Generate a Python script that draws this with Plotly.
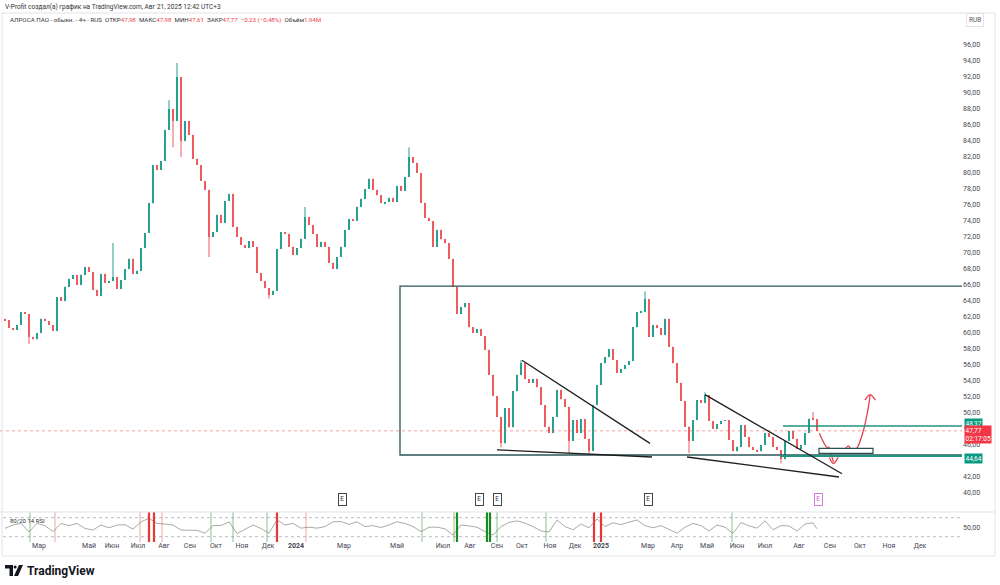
import plotly.graph_objects as go

# ---------------- DATA ----------------
# Close prices of coarse bars (one bar ~ 2 trading days), RUB
closes = [61.6, 60.6, 60.4, 61.0, 62.6, 62.4, 59.5, 59.2, 60.0, 61.8,
          61.5, 61.0, 60.3, 64.5, 64.0, 65.8, 66.8, 67.2, 66.0, 67.3,
          68.2, 67.6, 65.4, 64.6, 67.4, 66.3, 66.5, 67.0, 65.5, 66.6,
          68.0, 69.3, 67.4, 67.8, 70.6, 72.5, 76.2, 81.0, 80.4, 81.5,
          85.4, 88.0, 86.5, 92.0, 84.0, 86.5, 84.8, 81.8, 81.0, 79.0,
          77.9, 72.0, 72.6, 74.8, 73.8, 76.5, 77.4, 73.3, 72.0, 71.0,
          70.6, 71.5, 70.8, 67.5, 66.5, 65.6, 64.8, 65.3, 70.5, 72.6,
          72.4, 70.8, 69.8, 70.6, 71.8, 74.5, 73.5, 72.4, 70.8, 71.4,
          70.8, 68.8, 68.0, 69.5, 70.8, 72.9, 74.2, 74.0, 75.8, 76.8,
          78.0, 79.3, 77.9, 77.2, 76.2, 76.4, 76.9, 76.4, 78.4, 77.8,
          79.5, 82.0, 81.3, 80.0, 76.3, 74.4, 74.0, 70.8, 72.9, 71.7,
          71.2, 69.3, 65.8, 62.4, 63.2, 63.7, 60.7, 60.0, 60.5, 59.6,
          57.9, 54.8, 52.1, 49.5, 46.2, 50.6, 48.2, 52.7, 54.8, 56.2,
          54.2, 53.8, 54.3, 53.2, 51.0, 48.3, 47.5, 49.5, 52.9, 51.7,
          50.8, 46.5, 49.1, 47.5, 49.2, 46.8, 45.3, 51.0, 53.5, 56.2,
          57.0, 58.0, 56.6, 55.0, 55.5, 56.0, 56.5, 60.7, 62.6, 62.6,
          64.2, 59.5, 61.0, 60.6, 59.8, 61.8, 58.3, 56.2, 53.8, 51.5,
          48.3, 46.5, 49.1, 51.6, 51.3, 52.2, 49.0, 48.0, 48.6, 49.0,
          49.1, 46.6, 45.2, 45.8, 48.5, 47.0, 45.7, 45.4, 45.2, 46.0,
          47.5, 47.0, 45.8, 45.4, 44.2, 46.5, 47.7, 46.8, 45.5, 46.0,
          47.5, 49.3, 49.2, 47.77]
first_open = 61.8
# wick extremes that stick out of the bodies (bar index -> price)
wick_highs = {27: 71.25, 41: 89.1, 43: 93.75, 75: 75.75, 101: 83.2,
              129: 56.6, 160: 65.2, 175: 52.6, 202: 50.1}
wick_lows = {6: 58.6, 42: 83.2, 44: 82.0, 51: 69.5, 66: 64.3, 124: 45.7,
             141: 45.0, 146: 44.9, 171: 45.0, 194: 43.7}

# RSI(14) sampled every 2 bars
rsi_values = [46.5, 57, 62, 35, 62, 55, 36, 62, 55, 62, 46, 41, 57, 48, 57,
              58, 44, 67, 78, 62, 60, 57, 41, 40, 40, 31, 55, 55, 67, 30,
              43, 57, 46, 31, 73, 57, 62, 47, 50, 47, 52, 67, 68, 59, 67,
              52, 55, 49, 57, 67, 62, 52, 36, 50, 50, 45, 25, 57, 54, 50,
              36, 25, 52, 65, 70, 63, 52, 38, 35, 73, 52, 42, 60, 48, 76,
              52, 64, 58, 66, 73, 55, 48, 55, 43, 31, 50, 62, 55, 38, 57,
              50, 30, 65, 54, 47, 70, 42, 55, 54, 38, 60, 64, 45]
rsi_step = 2

# RSI extreme markers (bar index)
green_light = [6.25, 51.5, 57, 65.5, 104.25, 112.25, 123, 135.25, 181.75]
green_strong = [113, 120.5, 121.25]
red_light = [12.5, 33.75, 39.25, 75.25]
red_strong = [36, 37.25, 68, 147.25, 149]
earnings = [84.25, 118.5, 123, 160.75]
earnings_next = 203.25

# Month labels (bar index of month start)
tick_pos = [8.5, 21, 26.75, 33.25, 39.75, 46.25, 52.75, 59.25, 65.75, 72.75,
            84.75, 98, 109.5, 116.25, 123, 129.25, 136.25, 142.5, 149, 160.75,
            168, 175.5, 183, 190, 198.5, 206.25, 213.75, 221, 228.75]
tick_text = ['Мар', 'Май', 'Июн', 'Июл', 'Авг', 'Сен', 'Окт', 'Ноя', 'Дек', '<b>2024</b>',
             'Мар', 'Май', 'Июл', 'Авг', 'Сен', 'Окт', 'Ноя', 'Дек', '<b>2025</b>', 'Мар',
             'Апр', 'Май', 'Июн', 'Июл', 'Авг', 'Сен', 'Окт', 'Ноя', 'Дек']
price_ticks = [40, 42, 46, 50, 52, 54, 56, 58, 60, 62, 64, 66, 68, 70, 72, 74,
               76, 78, 80, 82, 84, 86, 88, 90, 92, 94, 96]

# Drawings (bar index, price)
range_box = dict(x0=98.75, x1=245, y0=44.75, y1=65.85)
level_hi, level_lo, last_price = 48.37, 44.64, 47.77
level_hi_start, level_lo_start = 194.5, 193.75
wedge_lines = [((129.25, 56.6), (161.25, 46.2)),
               ((123.0, 45.4), (161.75, 44.5)),
               ((175.0, 52.3), (209.25, 42.4)),
               ((170.5, 44.5), (208.5, 42.0))]
small_box = dict(x0=203.5, x1=217.0, y0=44.96, y1=45.58)
path_down_b = [203.6, 205.0, 206.25, 207.1]
path_down_p = [47.46, 46.0, 45.16, 43.9]
head_down_b = [206.1, 207.1, 208.3]
head_down_p = [44.45, 43.7, 44.45]
path_up_b = [205.8, 207.1, 208.3, 209.6, 210.8, 211.7, 212.9, 214.4, 215.4, 216.0, 216.25]
path_up_p = [45.8, 45.16, 45.58, 45.3, 45.9, 45.4, 45.58, 47.46, 49.54, 51.2, 52.25]
head_up_b = [215.0, 216.25, 217.6]
head_up_p = [51.6, 52.3, 51.6]

# ---------------- FIGURE ----------------
UP, DOWN = '#26a08f', '#ee5a5f'
opens = [first_open] + closes[:-1]
highs = [max(o, c) for o, c in zip(opens, closes)]
lows = [min(o, c) for o, c in zip(opens, closes)]
for k, v in wick_highs.items():
    highs[k] = max(highs[k], v)
for k, v in wick_lows.items():
    lows[k] = min(lows[k], v)
bars = list(range(len(closes)))
is_up = [c >= o for o, c in zip(opens, closes)]

W, H = 1000, 585
def py(p):
    return 1 - p / H

fig = go.Figure()
for flag, col in [(True, UP), (False, DOWN)]:
    wx, wy = [], []
    for b, h, l, u in zip(bars, highs, lows, is_up):
        if u == flag:
            wx += [b, b, None]
            wy += [l, h, None]
    fig.add_trace(go.Scatter(x=wx, y=wy, mode='lines', line=dict(color=col, width=1),
                             showlegend=False, hoverinfo='skip'))
fig.add_trace(go.Bar(
    x=bars, base=[min(o, c) for o, c in zip(opens, closes)],
    y=[max(abs(c - o), 0.12) for o, c in zip(opens, closes)],
    width=0.7, marker=dict(color=[UP if u else DOWN for u in is_up], line=dict(width=0)),
    showlegend=False, hoverinfo='skip', xaxis='x', yaxis='y'))

rsi_x = [min(i * rsi_step, len(closes) - 1) for i in range(len(rsi_values))]
fig.add_trace(go.Scatter(x=rsi_x, y=rsi_values, mode='lines',
                         line=dict(color='#aaaaaa', width=1),
                         showlegend=False, hoverinfo='skip', xaxis='x2', yaxis='y2'))

for bx, bp in [(path_down_b, path_down_p), (head_down_b, head_down_p),
               (path_up_b, path_up_p), (head_up_b, head_up_p)]:
    fig.add_trace(go.Scatter(x=bx, y=bp, mode='lines',
                             line=dict(color='#e0424c', width=1.3, shape='spline'),
                             showlegend=False, hoverinfo='skip'))

shapes = []
shapes.append(dict(type='line', xref='paper', x0=0, x1=0.962, yref='y', y0=last_price, y1=last_price,
                   line=dict(color='rgba(239,83,80,0.55)', width=1, dash='dot')))
shapes.append(dict(type='rect', xref='x', yref='y', **range_box,
                   line=dict(color='#2b5557', width=1.3)))
shapes.append(dict(type='line', xref='x', yref='y', x0=level_hi_start, x1=245, y0=level_hi, y1=level_hi,
                   line=dict(color='#23927f', width=1.5)))
shapes.append(dict(type='line', xref='x', yref='y', x0=level_lo_start, x1=245, y0=level_lo, y1=level_lo,
                   line=dict(color='#23927f', width=2)))
for (a, b) in wedge_lines:
    shapes.append(dict(type='line', xref='x', yref='y', x0=a[0], y0=a[1], x1=b[0], y1=b[1],
                       line=dict(color='#1e1e1e', width=1.3)))
shapes.append(dict(type='rect', xref='x', yref='y', **small_box, fillcolor='white',
                   line=dict(color='#2b4f55', width=1.2), layer='above'))
for lvl in (80, 20):
    shapes.append(dict(type='line', xref='x2', yref='y2', x0=-2, x1=240, y0=lvl, y1=lvl,
                       line=dict(color='#b8bcc6', width=1, dash='dot')))
r0, r1 = py(542), py(512)
for xs, col, wdt in [(green_light, 'rgba(56,142,60,0.55)', 1), (green_strong, '#1b8a22', 2.2),
                     (red_light, 'rgba(229,57,53,0.45)', 1), (red_strong, '#e53935', 2.2)]:
    for xv in xs:
        shapes.append(dict(type='line', xref='x2', yref='paper', x0=xv, x1=xv, y0=r0, y1=r1,
                           line=dict(color=col, width=wdt)))
shapes.append(dict(type='line', xref='paper', yref='paper', x0=0, x1=0.995, y0=py(512), y1=py(512),
                   line=dict(color='#e0e3eb', width=1)))
shapes.append(dict(type='rect', xref='paper', yref='paper', x0=0.002, x1=0.995, y0=py(556), y1=py(13),
                   line=dict(color='#e0e3eb', width=1)))
shapes.append(dict(type='path', xref='paper', yref='paper', fillcolor='#131722', line=dict(width=0),
                   path=f'M {5/W} {py(565)} L {13/W} {py(565)} L {13/W} {py(576)} L {9.5/W} {py(576)} '
                        f'L {9.5/W} {py(568.5)} L {5/W} {py(568.5)} Z'))
shapes.append(dict(type='circle', xref='paper', yref='paper', fillcolor='#131722', line=dict(width=0),
                   x0=13.6/W, x1=16.6/W, y0=py(568.6), y1=py(565.6)))
shapes.append(dict(type='path', xref='paper', yref='paper', fillcolor='#131722', line=dict(width=0),
                   path=f'M {19/W} {py(565)} L {23/W} {py(565)} L {18/W} {py(576)} L {14/W} {py(576)} Z'))

anns = []
FONT = 'Roboto'
anns.append(dict(xref='paper', yref='paper', x=3/W, y=py(7), xanchor='left', yanchor='middle',
                 text='V-Profit создал(а) график на TradingView.com, Авг 21, 2025 12:42 UTC+3',
                 showarrow=False, font=dict(size=6.5, color='#333333', family=FONT)))
R = "<span style='color:#e8474f'>"
S = '&nbsp;&nbsp;'
anns.append(dict(xref='paper', yref='paper', x=8/W, y=py(20), xanchor='left', yanchor='middle',
                 text=f"АЛРОСА ПАО - обыкн. - 4ч - RUS{S}ОТКР{R}47,98</span>{S}МАКС{R}47,98</span>{S}"
                      f"МИН{R}47,61</span>{S}ЗАКР{R}47,77</span>{S}{R}−0,23 (−0,48%)</span>{S}Объём{R}1,94M</span>",
                 showarrow=False, font=dict(size=6.2, color='#333333', family=FONT)))
anns.append(dict(xref='paper', yref='paper', x=975/W, y=py(20), xanchor='center', yanchor='middle',
                 text='RUB', showarrow=False, font=dict(size=6.5, color='#555', family=FONT),
                 bordercolor='#e0e3eb', borderwidth=1, borderpad=2, bgcolor='white'))
for txt, ypix, bg in [('48,37', 423, '#089981'), ('47,77<br>02:17:05', 434.5, '#f23645'), ('44,64', 458.5, '#089981')]:
    anns.append(dict(xref='paper', yref='paper', x=964/W, y=py(ypix), xanchor='left', yanchor='middle',
                     text=txt, showarrow=False, align='left', bgcolor=bg, borderpad=0.5,
                     font=dict(size=6.5, color='white', family=FONT)))
for xv in earnings:
    anns.append(dict(xref='x', yref='paper', x=xv, y=py(506), text='E', showarrow=False,
                     font=dict(size=6.5, color='#333', family=FONT), bgcolor='white',
                     bordercolor='#444', borderwidth=1, borderpad=1.3))
anns.append(dict(xref='x', yref='paper', x=earnings_next, y=py(506), text='E', showarrow=False,
                 font=dict(size=6.5, color='#c45ccf', family=FONT), bgcolor='white',
                 bordercolor='#d47be0', borderwidth=1, borderpad=1.3))
anns.append(dict(xref='paper', yref='paper', x=8/W, y=py(520), xanchor='left', yanchor='middle',
                 text='80/20 14 RSI', showarrow=False, font=dict(size=6, color='#333', family=FONT)))
anns.append(dict(xref='paper', yref='paper', x=25/W, y=py(571), xanchor='left', yanchor='middle',
                 text='<b>TradingView</b>', showarrow=False, font=dict(size=12, color='#131722', family=FONT)))

xr = [-1.25, 239.25]
fig.update_layout(
    width=W, height=H, margin=dict(l=0, r=0, t=0, b=0),
    paper_bgcolor='white', plot_bgcolor='white', separators=', ',
    font=dict(family=FONT, size=7, color='#434651'),
    shapes=shapes, annotations=anns, hovermode=False, bargap=0,
    xaxis=dict(domain=[0, 0.962], range=xr, showticklabels=False, showgrid=False,
               zeroline=False, anchor='y'),
    yaxis=dict(domain=[py(512), py(32)], range=[37.625, 97.625], side='right', anchor='x',
               tickvals=price_ticks, tickformat='.2f', showgrid=False, zeroline=False,
               ticks='', tickfont=dict(size=7, color='#434651')),
    xaxis2=dict(domain=[0, 0.962], range=xr, anchor='y2', matches='x', tickvals=tick_pos,
                ticktext=tick_text, showgrid=False, zeroline=False, ticks='',
                tickfont=dict(size=7, color='#434651')),
    yaxis2=dict(domain=[py(540), py(512)], range=[9.6, 98], side='right', anchor='x2',
                tickvals=[50], tickformat='.2f', showgrid=False, zeroline=False, ticks='',
                tickfont=dict(size=7, color='#434651')),
)
fig.write_html('out.html')
